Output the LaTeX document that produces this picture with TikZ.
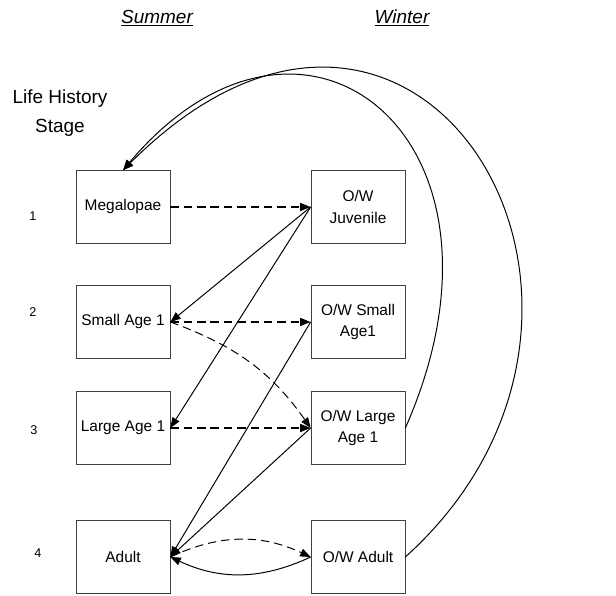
\documentclass[tikz,border=0pt]{standalone}
\usepackage{fontspec}
\setmainfont{Liberation Sans}
\usetikzlibrary{arrows.meta}
\tikzset{
  stagebox/.style={draw=black!75, line width=0.5pt, minimum width=2.35cm, minimum height=1.82cm,
    align=center, inner sep=1pt, font=\fontsize{11}{15}\selectfont},
  arr/.style={-{Triangle[length=2.6mm, width=2mm]}, line width=0.7pt},
  darr/.style={arr, dash pattern=on 6pt off 3.5pt},
  head/.style={font=\fontsize{13.5}{16}\selectfont\itshape},
  num/.style={font=\fontsize{9}{11}\selectfont},
}

\begin{document}
\begin{tikzpicture}[x=0.025cm, y=0.025cm]
\useasboundingbox (0,0) rectangle (616,596);
% Kopfzeilen
\node[head] (hsum) at (157,578) {\underline{Summer}};
\node[head] (hwin) at (402,578) {\underline{Winter}};
\node[align=center, font=\fontsize{13.5}{20.6}\selectfont] (lhs) at (60,483) {Life History\\Stage};
% Stufennummern
\node[num] (n1) at (33,380) {1};
\node[num] (n2) at (33,284) {2};
\node[num] (n3) at (34,166) {3};
\node[num] (n4) at (38,43) {4};
% Sommer
\node[stagebox] (smega) at (123,389) {Megalopae};
\node[stagebox] (ssmall) at (123,274) {Small Age 1};
\node[stagebox] (slarge) at (123,168) {Large Age 1};
\node[stagebox] (sadult) at (123,39) {Adult};
% Winter
\node[stagebox] (wjuv) at (358,389) {O/W\\Juvenile};
\node[stagebox] (wsmall) at (358,274) {O/W Small\\Age1};
\node[stagebox] (wlarge) at (358,168) {O/W Large\\Age 1};
\node[stagebox] (wadult) at (358,39) {O/W Adult};
% Sommer -> Winter
\draw[darr, line width=0.9pt] (smega.east) -- (wjuv.west);
\draw[darr, line width=0.9pt] (ssmall.east) -- (wsmall.west);
\draw[darr, line width=0.9pt] (slarge.east) -- (wlarge.west);
\draw[darr] (ssmall.east) to[out=-20, in=125] (wlarge.west);
\draw[darr] (sadult.east) to[bend left=25] (wadult.west);
% Winter -> Sommer
\draw[arr] (wjuv.west) -- (ssmall.east);
\draw[arr] (wjuv.west) -- (slarge.east);
\draw[arr] (wsmall.west) -- (sadult.east);
\draw[arr] (wlarge.west) -- (sadult.east);
\draw[arr] (wadult.west) to[bend left=25] (sadult.east);
% grosse Boegen zurueck zu Megalopae
\draw[arr] (wlarge.east) .. controls +(128,290) and +(180,214) .. (smega.north);
\draw[arr] (wadult.east) .. controls +(275,248) and +(297,297) .. (smega.north);
\end{tikzpicture}
\end{document}
